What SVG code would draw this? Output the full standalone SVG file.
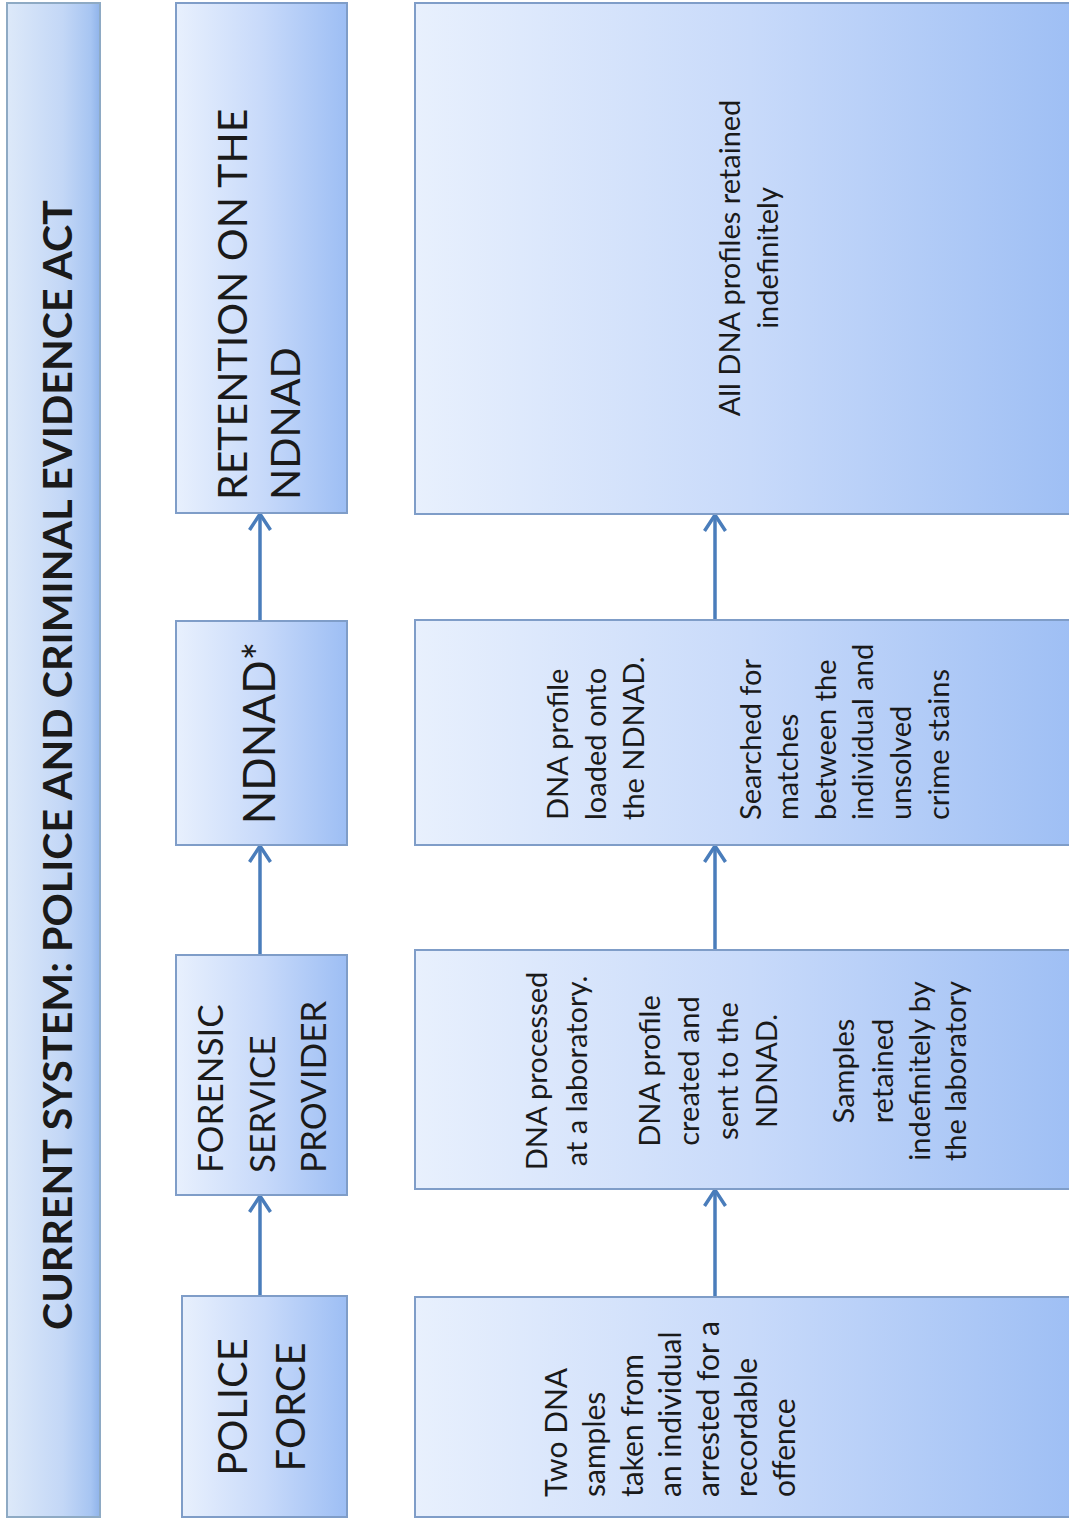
<svg xmlns="http://www.w3.org/2000/svg" width="1069" height="1521" viewBox="0 0 1069 1521">
  <defs>
    <linearGradient id="boxGrad" x1="0" y1="0" x2="1" y2="0">
      <stop offset="0" stop-color="#e8f0fd"/>
      <stop offset="0.5" stop-color="#c8dafa"/>
      <stop offset="1" stop-color="#9dbef4"/>
    </linearGradient>
    <linearGradient id="titleGrad" x1="0" y1="0" x2="1" y2="0">
      <stop offset="0" stop-color="#dde9f9"/>
      <stop offset="0.6" stop-color="#c3d7f6"/>
      <stop offset="0.9" stop-color="#a7c5f2"/>
      <stop offset="1" stop-color="#8fb3ea"/>
    </linearGradient>
    <marker id="arrow" viewBox="0 0 24 24" refX="21" refY="12" markerWidth="24" markerHeight="24" markerUnits="userSpaceOnUse" orient="auto">
      <path d="M5,1.5 L21,12 L5,22.5" fill="none" stroke="#4a7dbb" stroke-width="3.5" stroke-linejoin="miter"/>
    </marker>
    <style>
      .box { fill: url(#boxGrad); stroke: #7f9dc8; stroke-width: 2; }
      .title { fill: url(#titleGrad); stroke: #8eaac4; stroke-width: 2; }
      .conn { stroke: #4a7dbb; stroke-width: 3.5; fill: none; marker-end: url(#arrow); }
      text { font-family: Lato, "Liberation Sans", sans-serif; fill: #1a1a1a; }
      .ttl { font-weight: bold; font-size: 41px; }
      .hdr { font-size: 40px; }
      .det { font-size: 29px; }
    </style>
  </defs>

  <rect x="0" y="0" width="1069" height="1521" fill="#ffffff"/>

  <g id="title">
    <rect class="title" x="7" y="3" width="93" height="1514"/>
    <text class="ttl" transform="translate(72,765) rotate(-90)" text-anchor="middle" textLength="1130" lengthAdjust="spacingAndGlyphs">CURRENT SYSTEM: POLICE AND CRIMINAL EVIDENCE ACT</text>
  </g>

  <g id="connectors">
    <line class="conn" x1="260" y1="1296" x2="260" y2="1196"/>
    <line class="conn" x1="260" y1="955" x2="260" y2="846"/>
    <line class="conn" x1="260" y1="621" x2="260" y2="514"/>
    <line class="conn" x1="715" y1="1297" x2="715" y2="1190"/>
    <line class="conn" x1="715" y1="950" x2="715" y2="846"/>
    <line class="conn" x1="715" y1="620" x2="715" y2="515"/>
  </g>

  <g id="police-force">
    <rect class="box" x="182" y="1296" width="165" height="221"/>
    <text class="hdr" transform="translate(247,1407) rotate(-90)" text-anchor="middle">POLICE<tspan x="0" dy="58">FORCE</tspan></text>
  </g>

  <g id="forensic-service-provider">
    <rect class="box" x="176" y="955" width="171" height="240"/>
    <text class="hdr" style="font-size:35px" transform="translate(223,1173) rotate(-90)" text-anchor="start">FORENSIC<tspan x="0" dy="52">SERVICE</tspan><tspan x="0" dy="51">PROVIDER</tspan></text>
  </g>

  <g id="ndnad">
    <rect class="box" x="176" y="621" width="171" height="224"/>
    <text class="hdr" style="font-size:44px" transform="translate(275,733) rotate(-90)" text-anchor="middle">NDNAD*</text>
  </g>

  <g id="retention">
    <rect class="box" x="176" y="3" width="171" height="510"/>
    <text class="hdr" style="font-size:41px" transform="translate(247,500) rotate(-90)" text-anchor="start">RETENTION ON THE<tspan x="0" dy="53">NDNAD</tspan></text>
  </g>

  <g id="police-detail">
    <rect class="box" x="415" y="1297" width="670" height="220"/>
    <text class="det" style="font-size:30px" transform="translate(567,1497) rotate(-90)" text-anchor="start">Two DNA<tspan x="0" dy="38">samples</tspan><tspan x="0" dy="38">taken from</tspan><tspan x="0" dy="38">an individual</tspan><tspan x="0" dy="38">arrested for a</tspan><tspan x="0" dy="38">recordable</tspan><tspan x="0" dy="38">offence</tspan></text>
  </g>

  <g id="forensic-detail">
    <rect class="box" x="415" y="950" width="670" height="239"/>
    <text class="det" transform="translate(547,1071) rotate(-90)" text-anchor="middle">DNA processed<tspan x="0" dy="40">at a laboratory.</tspan><tspan x="0" dy="73">DNA profile</tspan><tspan x="0" dy="39">created and</tspan><tspan x="0" dy="39">sent to the</tspan><tspan x="0" dy="39">NDNAD.</tspan><tspan x="0" dy="77">Samples</tspan><tspan x="0" dy="39">retained</tspan><tspan x="0" dy="37">indefinitely by</tspan><tspan x="0" dy="36">the laboratory</tspan></text>
  </g>

  <g id="ndnad-detail">
    <rect class="box" x="415" y="620" width="670" height="225"/>
    <text class="det" transform="translate(568,820) rotate(-90)" text-anchor="start">DNA profile<tspan x="0" dy="38">loaded onto</tspan><tspan x="0" dy="38">the NDNAD.</tspan><tspan x="0" dy="117">Searched for</tspan><tspan x="0" dy="37">matches</tspan><tspan x="0" dy="38">between the</tspan><tspan x="0" dy="37">individual and</tspan><tspan x="0" dy="38">unsolved</tspan><tspan x="0" dy="38">crime stains</tspan></text>
  </g>

  <g id="retention-detail">
    <rect class="box" x="415" y="3" width="670" height="511"/>
    <text class="det" transform="translate(740,258) rotate(-90)" text-anchor="middle">All DNA profiles retained<tspan x="0" dy="38">indefinitely</tspan></text>
  </g>
</svg>
